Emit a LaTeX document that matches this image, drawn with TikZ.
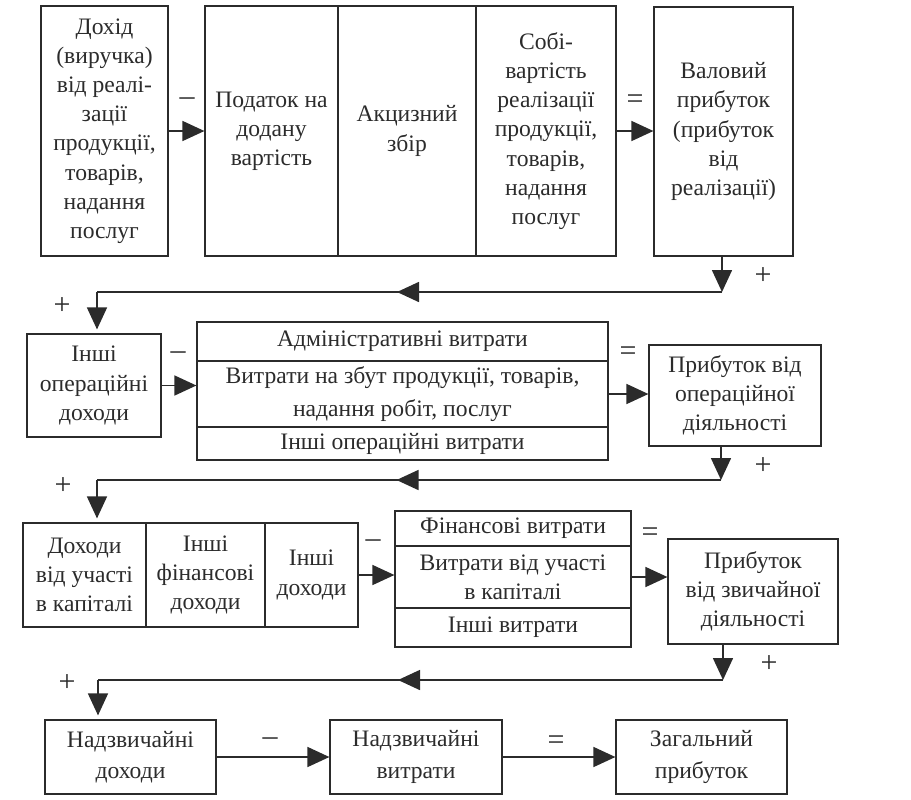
\documentclass[tikz,border=0pt]{standalone}
\usepackage{fontspec}
\setmainfont{Liberation Serif}
\usetikzlibrary{arrows.meta}
\usetikzlibrary{decorations.markings}
\definecolor{ink}{HTML}{2B2B2B}
\tikzset{
	box/.style={draw=ink,line width=0.6pt,inner sep=1pt,align=center,text=ink,font=\fontsize{11.8}{14.6}\selectfont},
	arr/.style={color=ink,line width=0.8pt,-{Triangle[length=11pt,width=10pt]}},
	conn/.style={color=ink,line width=0.8pt},
	midarr/.style={postaction={decorate},decoration={markings,mark=at position #1 with {\arrow{Triangle[length=11pt,width=10pt]}}}},
	sign/.style={text=ink,font=\fontsize{15}{16}\selectfont}
}
\begin{document}
\begin{tikzpicture}[x=0.5pt,y=-0.5pt]
	\useasboundingbox (0,0) rectangle (911,799);
	\node[box,minimum width=63.5pt,minimum height=125pt] (dohid) at (104.5,131) {Дохід\\(виручка)\\від реалі-\\зації\\продукції,\\товарів,\\надання\\послуг};
	\node[box,minimum width=66.5pt,minimum height=125pt] (pdv) at (271.5,131) {Податок на\\додану\\вартість};
	\node[box,minimum width=69pt,minimum height=125pt] (akc) at (407,131) {Акцизний\\збір};
	\node[box,minimum width=70pt,minimum height=125pt] (sob) at (546,131) {Собі-\\вартість\\реалізації\\продукції,\\товарів,\\надання\\послуг};
	\node[box,minimum width=69.5pt,minimum height=124.5pt] (val) at (723.5,131.5) {Валовий\\прибуток\\(прибуток\\від\\реалізації)};
	\draw[arr] (dohid.east) -- (pdv.west);
	\draw[arr] (sob.east) -- (sob.east -| val.west);
	\node[sign] (m1) at (187,102) {–};
	\node[sign] (e1) at (635,102) {=};
	\coordinate (r1) at (722,292);
	\coordinate (l1) at (97,292);
	\draw[arr] (val.south -| r1) -- (r1);
	\node[sign] (p1) at (763,276) {+};
	\node[sign] (p2) at (62,306) {+};

	\node[box,minimum width=67pt,minimum height=51.5pt] (iod) at (94,385.5) {Інші\\операційні\\доходи};
	\node[box,minimum width=205.5pt,minimum height=19.5pt] (adm) at (402.5,341.5) {Адміністративні витрати};
	\node[box,minimum width=205.5pt,minimum height=33pt] (zbut) at (402.5,394) {Витрати на збут продукції, товарів,\\[2pt]надання робіт, послуг};
	\node[box,minimum width=205.5pt,minimum height=16.5pt] (iov) at (402.5,443.5) {Інші операційні витрати};
	\node[box,minimum width=86pt,minimum height=50.5pt] (pod) at (735,395.5) {Прибуток від\\операційної\\діяльності};
	\draw[conn,midarr=0.52] (r1) -- (l1);
	\draw[arr,shorten >=2pt] (l1) -- (iod.north -| l1);
	\draw[arr] (iod.east) -- (iod.east -| zbut.west);
	\draw[arr] (zbut.east) -- (zbut.east -| pod.west);
	\node[sign] (m2) at (178,356) {–};
	\node[sign] (e2) at (628,354) {=};
	\coordinate (r2) at (721,480);
	\coordinate (l2) at (97,480);
	\draw[arr] (pod.south -| r2) -- (r2);
	\node[sign] (p3) at (763,466) {+};
	\node[sign] (p4) at (63,486) {+};

	\node[box,minimum width=61.5pt,minimum height=52pt] (duk) at (84.5,575) {Доходи\\від участі\\в капіталі};
	\node[box,minimum width=59.5pt,minimum height=52pt] (ifd) at (205.5,575) {Інші\\фінансові\\доходи};
	\node[box,minimum width=46.5pt,minimum height=52pt] (ido) at (311.5,575) {Інші\\доходи};
	\node[box,minimum width=118pt,minimum height=17.5pt] (fv) at (513,528.5) {Фінансові витрати};
	\node[box,minimum width=118pt,minimum height=31pt] (vuk) at (513,577) {Витрати від участі\\в капіталі};
	\node[box,minimum width=118pt,minimum height=19.5pt] (iv) at (513,627.5) {Інші витрати};
	\node[box,minimum width=85pt,minimum height=52.5pt] (pzd) at (753,591.5) {Прибуток\\від звичайної\\діяльності};
	\draw[conn,midarr=0.52] (r2) -- (l2);
	\draw[arr,shorten >=2pt] (l2) -- (duk.north -| l2);
	\draw[arr] (ido.east) -- (ido.east -| vuk.west);
	\draw[arr] (vuk.east) -- (vuk.east -| pzd.west);
	\node[sign] (m3) at (373,544) {–};
	\node[sign] (e3) at (650,535) {=};
	\coordinate (r3) at (723,680);
	\coordinate (l3) at (98,680);
	\draw[arr] (pzd.south -| r3) -- (r3);
	\node[sign] (p5) at (769,664) {+};
	\node[sign] (p6) at (67,683) {+};

	\node[box,minimum width=85.5pt,minimum height=37pt] (nd) at (130.5,757) {Надзвичайні\\[1pt]доходи};
	\node[box,minimum width=86pt,minimum height=37pt] (nv) at (416,757) {Надзвичайні\\[1pt]витрати};
	\node[box,minimum width=85.5pt,minimum height=37pt] (zp) at (701.5,757) {Загальний\\[1pt]прибуток};
	\draw[conn,midarr=0.52] (r3) -- (l3);
	\draw[arr,shorten >=2pt] (l3) -- (nd.north -| l3);
	\draw[arr] (nd.east) -- (nv.west);
	\draw[arr] (nv.east) -- (zp.west);
	\node[sign] (m4) at (270,742) {–};
	\node[sign] (e4) at (556,743) {=};
\end{tikzpicture}
\end{document}
